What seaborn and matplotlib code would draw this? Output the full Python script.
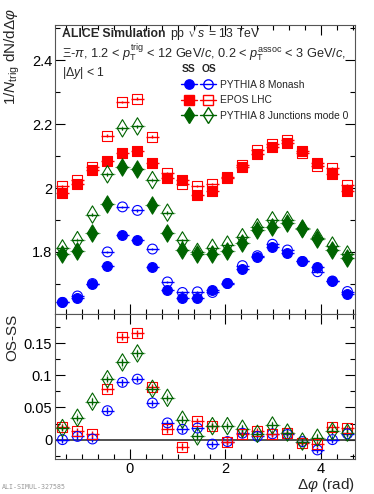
import numpy as np
import pandas as pd
import matplotlib
matplotlib.use("Agg")
import matplotlib.pyplot as plt
import seaborn as sns
from matplotlib.lines import Line2D
from matplotlib.legend_handler import HandlerTuple
from matplotlib.ticker import MultipleLocator, FuncFormatter

# 20 delta-phi bins, -pi/2 .. 3pi/2
n_bins = 20
dphi = -np.pi / 2 + (np.arange(n_bins) + 0.5) * np.pi / 10

# same-sign (SS) correlations
monash_ss = [1.642, 1.657, 1.700, 1.755, 1.852, 1.836, 1.752, 1.680, 1.657, 1.657,
             1.680, 1.704, 1.747, 1.783, 1.815, 1.798, 1.773, 1.754, 1.709, 1.667]
epos_ss = [1.985, 2.012, 2.058, 2.085, 2.110, 2.115, 2.079, 2.031, 2.024, 1.977,
           1.992, 2.034, 2.065, 2.106, 2.128, 2.141, 2.115, 2.077, 2.043, 1.992]
junc_ss = [1.793, 1.803, 1.858, 1.949, 2.067, 2.059, 1.946, 1.858, 1.805, 1.795,
           1.792, 1.802, 1.829, 1.868, 1.877, 1.889, 1.874, 1.842, 1.807, 1.781]

# OS - SS differences
monash_diff = [0.000, 0.005, 0.001, 0.045, 0.089, 0.094, 0.057, 0.026, 0.016, 0.018,
               -0.007, -0.003, 0.010, 0.005, 0.009, 0.008, -0.003, -0.016, 0.000, 0.009]
epos_diff = [0.020, 0.013, 0.009, 0.079, 0.160, 0.165, 0.082, 0.016, -0.011, 0.029,
             0.021, -0.003, 0.008, 0.013, 0.009, 0.010, -0.005, -0.007, 0.019, 0.018]
junc_diff = [0.018, 0.034, 0.059, 0.094, 0.120, 0.134, 0.079, 0.065, 0.031, 0.005,
             0.021, 0.021, 0.017, 0.009, 0.022, 0.011, -0.003, 0.003, 0.013, 0.011]

generators = ["PYTHIA 8 Monash", "EPOS LHC", "PYTHIA 8 Junctions mode 0"]
ss_values = [monash_ss, epos_ss, junc_ss]
diff_values = [monash_diff, epos_diff, junc_diff]
colors = ["#0000ff", "#ff0000", "#006400"]
markers = ["o", "s", "d"]
sizes = [50, 52, 78]

rows = []
for gen, ss, diff in zip(generators, ss_values, diff_values):
    for x, s, d in zip(dphi, ss, diff):
        rows.append({"gen": gen, "dphi": x, "SS": s, "OS": s + d, "diff": d})
df = pd.DataFrame(rows)

sns.set_theme(style="ticks")
plt.rcParams["font.family"] = ["Liberation Sans", "DejaVu Sans"]
plt.rcParams["mathtext.fontset"] = "custom"
plt.rcParams["mathtext.rm"] = "Liberation Sans"
plt.rcParams["mathtext.it"] = "Liberation Sans:italic"
plt.rcParams["mathtext.bf"] = "Liberation Sans:bold"

fig = plt.figure(figsize=(3.74, 4.94), dpi=100)
ax_top = fig.add_axes([0.147, 0.364, 0.802, 0.585])
ax_bot = fig.add_axes([0.147, 0.071, 0.802, 0.293], sharex=ax_top)

xerr = 0.13
for gen, col, mk, sz in zip(generators, colors, markers, sizes):
    sub = df[df["gen"] == gen]
    if col == "#006400":
        # dotted systematic boxes around the junction-model points
        for ax, ycol, yh in ((ax_top, "SS", 0.006), (ax_top, "OS", 0.006), (ax_bot, "diff", 0.008)):
            eb = ax.errorbar(sub["dphi"], sub[ycol], xerr=0.155, yerr=yh, fmt="none",
                             ecolor="#4a9a4a", elinewidth=0.7, capsize=0, zorder=1)
            for lc in eb[2]:
                lc.set_linestyle((0, (1, 2)))
    ax_top.errorbar(sub["dphi"], sub["SS"], xerr=xerr, yerr=0.004, fmt="none",
                    ecolor=col, elinewidth=1.0, capsize=0, zorder=2)
    ax_top.errorbar(sub["dphi"], sub["OS"], xerr=xerr, yerr=0.004, fmt="none",
                    ecolor=col, elinewidth=1.0, capsize=0, zorder=2)
    ax_bot.errorbar(sub["dphi"], sub["diff"], xerr=xerr, yerr=0.005, fmt="none",
                    ecolor=col, elinewidth=1.0, capsize=0, zorder=2)
    sns.scatterplot(data=sub, x="dphi", y="SS", ax=ax_top, marker=mk, s=sz,
                    color=col, edgecolor=col, linewidth=0.8, zorder=3, legend=False)
    sns.scatterplot(data=sub, x="dphi", y="OS", ax=ax_top, marker=mk, s=sz,
                    facecolor="none", edgecolor=col, linewidth=0.8, zorder=3, legend=False)
    sns.scatterplot(data=sub, x="dphi", y="diff", ax=ax_bot, marker=mk, s=sz,
                    facecolor="none", edgecolor=col, linewidth=0.8, zorder=3, legend=False)

ax_bot.axhline(0, color="#333333", lw=1.2, zorder=1)

ax_top.set_xlim(-np.pi / 2, 3 * np.pi / 2)
ax_top.set_ylim(1.605, 2.51)
ax_bot.set_ylim(-0.03, 0.195)

for ax in (ax_top, ax_bot):
    ax.tick_params(which="both", direction="in", top=True, right=True,
                   labelsize=10.5, pad=2, colors="black")
    ax.tick_params(which="major", length=7, width=0.8)
    ax.tick_params(which="minor", length=3.5, width=0.8)
    for sp in ax.spines.values():
        sp.set_linewidth(0.8)
        sp.set_color("#555555")
    ax.xaxis.set_major_locator(MultipleLocator(2))
    ax.xaxis.set_minor_locator(MultipleLocator(1 / 3))

ax_top.tick_params(labelbottom=False)
ax_top.yaxis.set_major_locator(MultipleLocator(0.2))
ax_top.yaxis.set_minor_locator(MultipleLocator(0.1))
ax_top.yaxis.set_major_formatter(FuncFormatter(lambda v, p: f"{v:g}"))
ax_bot.yaxis.set_major_locator(MultipleLocator(0.05))
ax_bot.yaxis.set_minor_locator(MultipleLocator(0.025))
ax_bot.yaxis.set_major_formatter(FuncFormatter(lambda v, p: f"{round(v, 3):g}"))

ax_top.set_xlabel("")
ax_top.set_ylabel(r"1/$N_{\mathrm{trig}}$ dN/d$\Delta\varphi$", fontsize=11,
                  ha="right", va="center")
ax_top.yaxis.set_label_coords(-0.143, 1.06)
ax_bot.set_ylabel("OS-SS", fontsize=11, ha="right", va="center")
ax_bot.yaxis.set_label_coords(-0.143, 1.0)
ax_bot.set_xlabel(r"$\Delta\varphi$ (rad)", fontsize=11, ha="right")
ax_bot.xaxis.set_label_coords(1.0, -0.12)

# header text
fig.text(0.165, 0.932, "ALICE Simulation", fontsize=8.8, fontweight="bold", va="center")
fig.text(0.455, 0.932, r"pp $\sqrt{s}$ = 13 TeV", fontsize=8.8, va="center")
fig.text(0.165, 0.893,
         r"$\Xi$-$\pi$, 1.2 < $p_{\mathrm{T}}^{\mathrm{trig}}$ < 12 GeV/$c$, "
         r"0.2 < $p_{\mathrm{T}}^{\mathrm{assoc}}$ < 3 GeV/$c$,",
         fontsize=9.2, va="center")
fig.text(0.165, 0.853, r"|$\Delta y$| < 1", fontsize=8.8, va="center")
fig.text(0.503, 0.860, "SS", fontsize=7.4, fontweight="bold", va="center", ha="center")
fig.text(0.559, 0.860, "OS", fontsize=7.4, fontweight="bold", va="center", ha="center")

handles = []
for col, mk, sz in zip(colors, markers, sizes):
    ms = np.sqrt(sz) * 0.95
    filled = Line2D([], [], color=col, marker=mk, markersize=ms, markerfacecolor=col,
                    markeredgecolor=col, lw=1.0)
    hollow = Line2D([], [], color=col, marker=mk, markersize=ms, markerfacecolor="none",
                    markeredgecolor=col, lw=1.0)
    handles.append((filled, hollow))
ax_top.legend(handles, generators, handler_map={tuple: HandlerTuple(ndivide=None, pad=0.3)},
              loc="upper left", bbox_to_anchor=(0.412, 0.818), frameon=False,
              fontsize=7.4, handlelength=3.4, handletextpad=0.4, labelspacing=0.52,
              borderpad=0.2, borderaxespad=0)

fig.text(0.005, 0.01, "ALI-SIMUL-327585", fontsize=4.8, color="#999999",
         family="DejaVu Sans Mono")

fig.savefig("out.png", dpi=100)
